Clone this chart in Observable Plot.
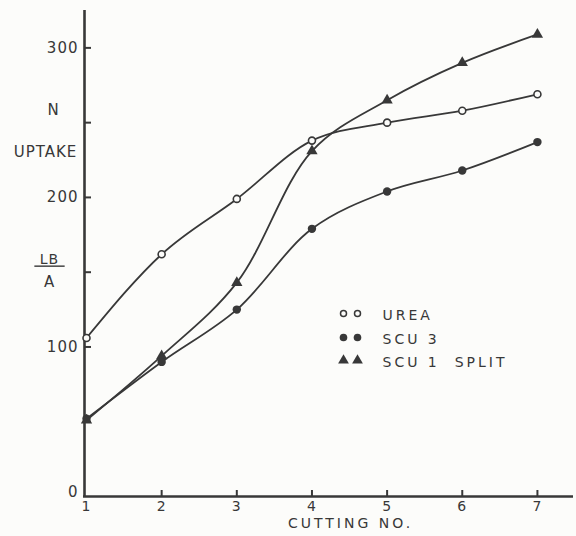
<!DOCTYPE html>
<html><head><meta charset="utf-8">
<script src="https://cdn.jsdelivr.net/npm/d3@7"></script>
<script src="https://cdn.jsdelivr.net/npm/@observablehq/plot@0.6"></script>
<style>
html,body{margin:0;padding:0;background:#fcfcfa;}
#chart{width:576px;height:536px;}
#chart svg text{letter-spacing:1px;}
#chart svg .wide text{letter-spacing:3px;}
</style></head><body><div id="chart"></div>
<script>
const cuttings = [1, 2, 3, 4, 5, 6, 7];
const urea = [106, 162, 199, 238, 250, 258, 269];
const scu3 = [52, 90, 125, 179, 204, 218, 237];
const scu1Split = [51, 94, 143, 231, 265, 290, 309];
const seriesNames = ["UREA", "SCU 3", "SCU 1  SPLIT"];
const yTickValues = [100, 200, 300];
const yTickMarks = [50, 100, 150, 200, 250, 300];
const xTickValues = [1, 2, 3, 4, 5, 6, 7];
const xTickMarks = [2, 3, 4, 5, 6, 7];
const xTitle = "CUTTING NO.";

const seriesValues = [urea, scu3, scu1Split];
const rows = seriesNames.flatMap((s, k) => cuttings.map((c, i) => ({cutting: c, uptake: seriesValues[k][i], series: s})));
const bySeries = s => rows.filter(r => r.series === s);

const ink = "#383838";
const paper = "#fcfcfa";
const font = "'DejaVu Sans', sans-serif";

const label = (t, dx, dy, size, extra = {}) =>
  Plot.text([t], {frameAnchor: "top-left", dx, dy, text: d => d, textAnchor: "middle", fontSize: size, fill: ink, ...extra});

const legendRow = (i, dy, dotOpts) => [
  Plot.dot([0], {frameAnchor: "top-left", dx: 257, dy, ...dotOpts}),
  Plot.dot([0], {frameAnchor: "top-left", dx: 271, dy, ...dotOpts}),
  Plot.text([seriesNames[i]], {frameAnchor: "top-left", dx: 296, dy: dy - 3, text: d => d, textAnchor: "start", fontSize: 14, fill: ink, className: "wide"})
];

const plot = Plot.plot({
  width: 576, height: 536,
  marginLeft: 86, marginRight: 0, marginTop: 10, marginBottom: 40,
  x: {domain: [1, 7.52], axis: null},
  y: {domain: [0, 325], axis: null},
  style: {background: "transparent", fontFamily: font, color: ink, fontSize: "15px"},
  marks: [
    // axes
    Plot.ruleX([1], {y1: 0, y2: 325, stroke: ink, strokeWidth: 2.6, dx: -2}),
    Plot.ruleY([0], {x1: 1, x2: 7.52, stroke: ink, strokeWidth: 2.6, dx: -3}),
    Plot.ruleY(yTickMarks, {y: d => d, x1: 1, x2: 1, insetRight: -7, dx: -2, stroke: ink, strokeWidth: 2}),
    Plot.ruleX(xTickMarks, {x: d => d, y1: 0, y2: 0, insetTop: 0, insetBottom: 6, stroke: ink, strokeWidth: 2}),
    Plot.text(yTickValues, {x: 1, y: d => d, text: d => String(d), textAnchor: "end", dx: -8, fontSize: 15, fill: ink}),
    Plot.text([0], {x: 1, y: d => d, text: d => String(d), textAnchor: "end", dx: -8, dy: -4, fontSize: 15, fill: ink}),
    Plot.text(xTickValues, {x: d => d, y: 0, text: d => String(d), dy: 10, fontSize: 14, fill: ink}),
    Plot.text([xTitle], {frameAnchor: "bottom-left", dx: 264, dy: 31, text: d => d, textAnchor: "middle", fontSize: 14, fill: ink, className: "wide"}),
    // y axis title
    label("N", -33, 94, 15),
    label("UPTAKE", -41, 136, 15),
    label(" LB ", -37, 244, 14),
    label("A", -37, 266, 15),
    // series
    Plot.line(bySeries("UREA"), {x: "cutting", y: "uptake", curve: "monotone-x", stroke: ink, strokeWidth: 1.8}),
    Plot.line(bySeries("SCU 3"), {x: "cutting", y: "uptake", curve: "catmull-rom", stroke: ink, strokeWidth: 1.8}),
    Plot.line(bySeries("SCU 1  SPLIT"), {x: "cutting", y: "uptake", curve: "catmull-rom", stroke: ink, strokeWidth: 1.8}),
    Plot.dot(bySeries("UREA"), {x: "cutting", y: "uptake", r: 3.5, stroke: ink, strokeWidth: 1.6, fill: paper}),
    Plot.dot(bySeries("SCU 3"), {x: "cutting", y: "uptake", r: 4.2, fill: ink}),
    Plot.dot(bySeries("SCU 1  SPLIT"), {x: "cutting", y: "uptake", r: 4.2, symbol: "triangle", fill: ink}),
    // legend
    ...legendRow(0, 303, {r: 3, stroke: ink, strokeWidth: 1.5, fill: "none"}),
    ...legendRow(1, 327, {r: 3.8, fill: ink}),
    ...legendRow(2, 350, {r: 4, symbol: "triangle", fill: ink})
  ]
});
document.getElementById("chart").appendChild(plot);
// fraction bar under LB
d3.select(plot).selectAll("text").filter(function() { return this.textContent === " LB "; })
  .style("text-decoration", "underline").style("white-space", "pre");
</script>
</body></html>
